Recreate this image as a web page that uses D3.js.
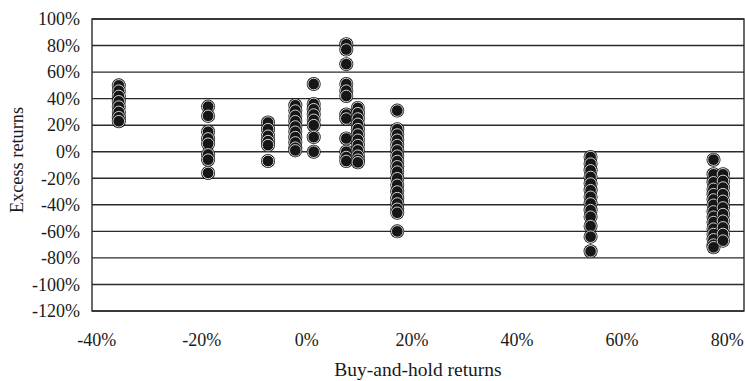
<!DOCTYPE html>
<html>
<head>
<meta charset="utf-8">
<script src="https://cdn.jsdelivr.net/npm/d3@7/dist/d3.min.js"></script>
<style>
  html, body { margin: 0; padding: 0; background: #fff; }
  svg { display: block; }
  svg text { font-family: "Liberation Serif", "Times New Roman", serif !important; fill: #1a1a1a; }
</style>
</head>
<body>
<svg id="chart" width="745" height="381"></svg>
<script>
// ---- data (percent) ----
const buyHoldReturns = [-35.7, -18.7, -7.3, -2.1, 1.4, 7.6, 9.8, 17.3, 54.1, 77.5, 79.3];
const excessReturns = [
  [50, 46, 42, 38, 34, 30, 26, 23],
  [34, 27, 15, 10, 6, -2, -6, -16],
  [22, 17, 12, 8, 5, -7],
  [35, 31, 27, 23, 19, 15, 11, 7, 3, 1],
  [51, 36, 32, 28, 24, 20, 11, 0],
  [81, 77, 66, 51, 46, 42, 28, 25, 10, 0, -4, -7],
  [33, 29, 25, 21, 17, 13, 9, 5, 1, -3, -6, -8],
  [31, 17, 13, 9, 5, 1, -3, -7, -11, -15, -20, -25, -30, -35, -39, -43, -46, -60],
  [-4, -9, -14, -19, -24, -29, -34, -39, -44, -49, -56, -64, -75],
  [-6, -17, -23, -28, -32, -36, -40, -45, -49, -53, -58, -62, -66, -70, -72],
  [-17, -22, -27, -32, -37, -42, -47, -52, -57, -62, -67]
];
const xTicks = [-40, -20, 0, 20, 40, 60, 80];
const yTicks = [100, 80, 60, 40, 20, 0, -20, -40, -60, -80, -100, -120];
const xTitle = "Buy-and-hold returns";
const yTitle = "Excess returns";

const points = [];
buyHoldReturns.forEach((bx, i) => excessReturns[i].forEach(v => points.push({x: bx, y: v})));

// ---- layout ----
const svg = d3.select("#chart");
const plot = {left: 92, right: 744, top: 19, bottom: 311};
const FONT = '"Liberation Serif", "Times New Roman", serif';

const x = d3.scaleLinear().domain([-40.8, 83.3]).range([plot.left, plot.right]);
const y = d3.scaleLinear().domain([-120, 100]).range([plot.bottom, plot.top]);

// gridlines
svg.append("g").selectAll("line").data(yTicks).join("line")
  .attr("x1", plot.left).attr("x2", plot.right)
  .attr("y1", d => y(d)).attr("y2", d => y(d))
  .attr("stroke", "#2a2a2a").attr("stroke-width", 1.4);

// frame
svg.append("rect")
  .attr("x", plot.left).attr("y", plot.top)
  .attr("width", plot.right - plot.left).attr("height", plot.bottom - plot.top)
  .attr("fill", "none").attr("stroke", "#2a2a2a").attr("stroke-width", 1.4);

// y axis labels
const yAxis = d3.axisLeft(y).tickValues(yTicks).tickSize(0).tickPadding(12)
  .tickFormat(d => d + "%");
const gy = svg.append("g").attr("transform", `translate(${plot.left},0)`).call(yAxis)
  .attr("font-family", FONT).attr("font-size", 18);
gy.select(".domain").remove();
gy.selectAll("text").attr("fill", "#1a1a1a");

// x axis labels
const xAxis = d3.axisBottom(x).tickValues(xTicks).tickSize(0).tickPadding(22)
  .tickFormat(d => d + "%");
const gx = svg.append("g").attr("transform", `translate(0,${plot.bottom})`).call(xAxis)
  .attr("font-family", FONT).attr("font-size", 18);
gx.select(".domain").remove();
gx.selectAll("text").attr("fill", "#1a1a1a");

// titles
svg.append("text")
  .attr("x", (plot.left + plot.right) / 2).attr("y", 376)
  .attr("text-anchor", "middle").attr("font-size", 19.5).text(xTitle);
svg.append("text")
  .attr("transform", `translate(23,${(plot.top + plot.bottom) / 2 - 5}) rotate(-90)`)
  .attr("text-anchor", "middle").attr("font-size", 18.3).text(yTitle);

// markers
const mk = svg.append("g").selectAll("g").data(points).join("g")
  .attr("transform", d => `translate(${x(d.x)},${y(d.y)})`);
mk.append("circle").attr("r", 7).attr("fill", "#161616");
mk.append("circle").attr("r", 5.8).attr("fill", "none")
  .attr("stroke", "#fff").attr("stroke-width", 0.8);
</script>
</body>
</html>
